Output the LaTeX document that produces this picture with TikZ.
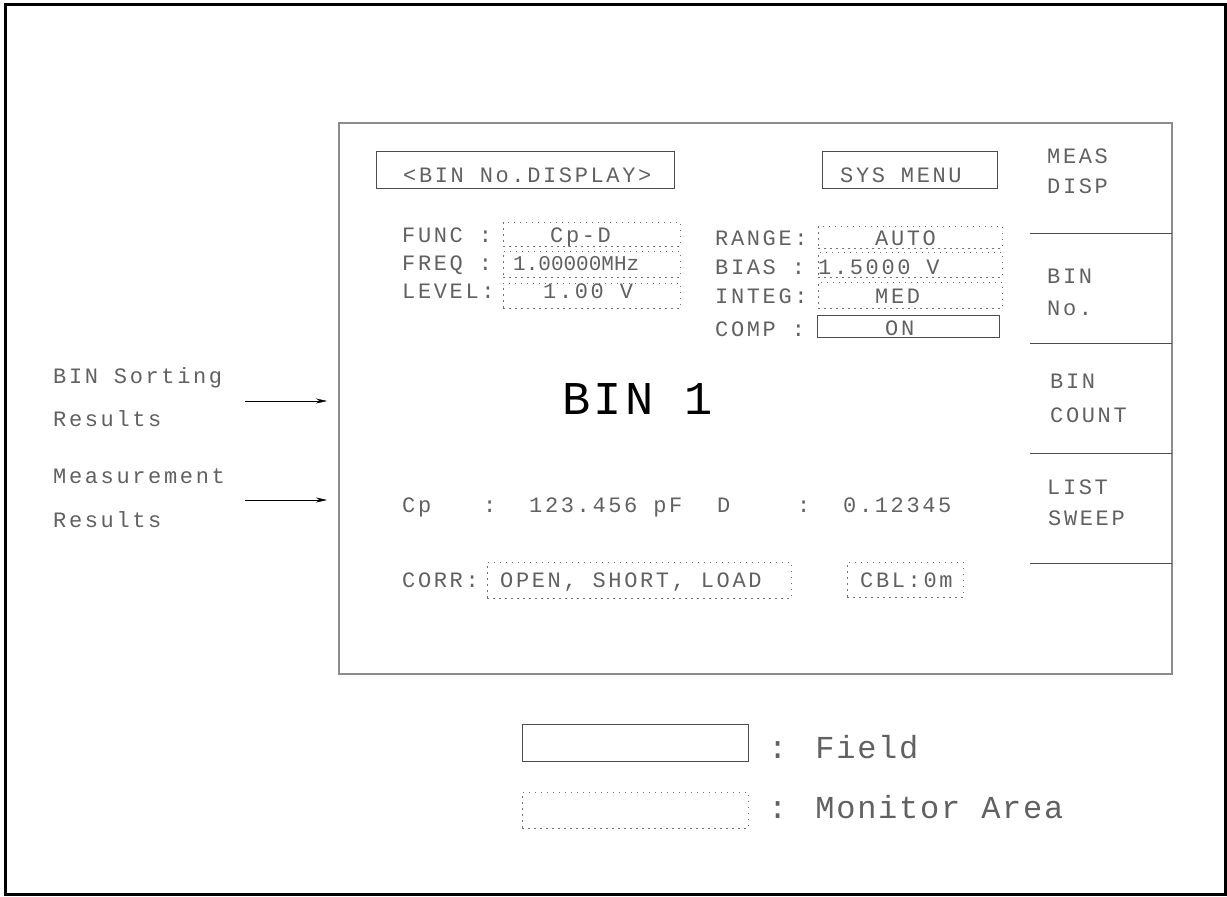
\documentclass[tikz,border=0pt]{standalone}
\usepackage{fontspec}
\setmainfont{Liberation Mono}
\newfontfamily\scrfont{Liberation Mono}[LetterSpace=12]
\newfontfamily\bigfont{Liberation Mono}[LetterSpace=7]
\newfontfamily\legfont{Liberation Mono}[LetterSpace=5.5]
\usepackage{tikz}
\usetikzlibrary{arrows.meta}
\tikzstyle{txt}=[inner sep=0pt,anchor=base west,text=black!62,font=\scrfont\fontsize{22}{26}\selectfont]
\tikzstyle{tight}=[txt,font=\rmfamily\fontsize{21}{25}\selectfont]
\tikzstyle{legend}=[txt,font=\legfont\fontsize{32}{36}\selectfont]
\tikzstyle{fld}=[draw=black!70,line width=0.9pt,inner sep=0pt]
\tikzstyle{mon}=[draw=black!55,line width=1pt,dash pattern=on 1.5pt off 4.5pt,inner sep=0pt]
\tikzstyle{key}=[draw=black!70,line width=0.9pt]

\begin{document}
\begin{tikzpicture}[x=1pt,y=-1pt]
\useasboundingbox (0,0) rectangle (1227,897);
\draw[line width=3pt] (5,4.5) rectangle (1225,894.5);
\node[draw=black!45,line width=1.3pt,minimum width=833,minimum height=551,inner sep=0pt] (screen) at (755.5,398.5) {};
\foreach \y in {233,343,453,563}{\draw[key] (1030,\y) -- (1172,\y);}
\foreach \t/\x/\y [count=\i] in {MEAS/1047/163,DISP/1047/193,BIN/1047/283,No./1047/315,BIN/1050/388,COUNT/1050/422,LIST/1047/494,SWEEP/1048/525}{\draw (\x,\y) node[txt] (key\i) {\t};}

\draw (525,169.5) node[fld,minimum width=298,minimum height=37] (dispbox) {};
\draw (403,182) node[txt] (disp) {<BIN No.DISPLAY>};
\draw (909.5,169.5) node[fld,minimum width=175,minimum height=37] (sysbox) {};
\draw (840,182) node[txt] (sys) {SYS MENU};

\draw (402,242) node[txt] (func) {FUNC :};
\draw (402,270) node[txt] (freq) {FREQ :};
\draw (402,298) node[txt] (level) {LEVEL:};
\draw (591.5,234) node[mon,minimum width=177,minimum height=24] (funcbox) {};
\draw (591.5,264) node[mon,minimum width=177,minimum height=26] (freqbox) {};
\draw (591.5,295.5) node[mon,minimum width=177,minimum height=25] (levelbox) {};
\draw (550,242) node[txt] (funcval) {Cp-D};
\draw (513,270) node[tight] (freqval) {1.00000MHz};
\draw (543,298) node[txt] (levelval) {1.00 V};

\draw (715,245) node[txt] (range) {RANGE:};
\draw (715,274) node[txt] (bias) {BIAS :};
\draw (715,303) node[txt] (integ) {INTEG:};
\draw (715,336) node[txt] (comp) {COMP :};
\draw (910,237) node[mon,minimum width=184,minimum height=22] (rangebox) {};
\draw (910,264.5) node[mon,minimum width=184,minimum height=25] (biasbox) {};
\draw (910,295) node[mon,minimum width=184,minimum height=26] (integbox) {};
\draw (908,326) node[fld,minimum width=182,minimum height=22] (compbox) {};
\draw (875,245) node[txt] (rangeval) {AUTO};
\draw (818,274) node[txt] (biasval) {1.5000 V};
\draw (875,303) node[txt] (integval) {MED};
\draw (885,335) node[txt] (compval) {ON};

\draw (562,414) node[txt,text=black,font=\bigfont\fontsize{47}{50}\selectfont] (bin) {BIN 1};

\draw (402,512) node[txt] (cp) {Cp};
\draw (483,512) node[txt] (cpcol) {:};
\draw (529,512) node[txt] (cpval) {123.456 pF};
\draw (717,512) node[txt] (d) {D};
\draw (797,512) node[txt] (dcol) {:};
\draw (843,512) node[txt] (dval) {0.12345};

\draw (402,587) node[txt] (corr) {CORR:};
\draw (639,580) node[mon,minimum width=304,minimum height=36] (corrbox) {};
\draw (500,587) node[txt] (corrval) {OPEN, SHORT, LOAD};
\draw (905,579.5) node[mon,minimum width=116,minimum height=35] (cblbox) {};
\draw (860,587) node[txt] (cbl) {CBL:0m};

\draw (53,383) node[txt] (sort1) {BIN Sorting};
\draw (53,426) node[txt] (sort2) {Results};
\draw (53,483) node[txt] (meas1) {Measurement};
\draw (53,527) node[txt] (meas2) {Results};
\coordinate (a1) at (245,401);
\coordinate (b1) at (327,401);
\coordinate (a2) at (245,500);
\coordinate (b2) at (327,500);
\draw[-{Stealth[length=11pt,width=5pt]}] (a1) -- (b1);
\draw[-{Stealth[length=11pt,width=5pt]}] (a2) -- (b2);

\draw (635,742.5) node[fld,minimum width=226,minimum height=37] (fieldkey) {};
\draw (768,758) node[legend] (fieldtxt) {: Field};
\draw (635,810) node[mon,minimum width=226,minimum height=36] (monkey) {};
\draw (768,818) node[legend] (montxt) {: Monitor Area};
\end{tikzpicture}
\end{document}
